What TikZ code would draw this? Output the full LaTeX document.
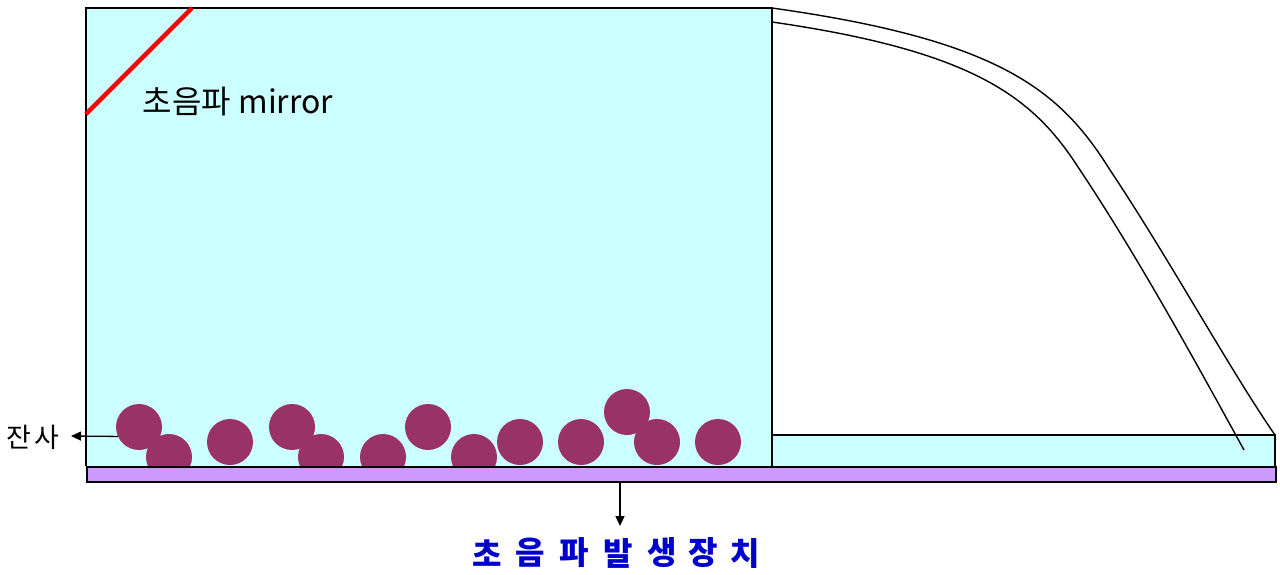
\documentclass[tikz,border=0pt]{standalone}
\usepackage{fontspec}
\newfontfamily\kr{Noto Sans CJK KR}
\usetikzlibrary{arrows.meta}
\definecolor{water}{HTML}{CCFFFF}
\definecolor{plate}{HTML}{CC99FF}
\definecolor{grain}{HTML}{993366}
\definecolor{labelblue}{HTML}{0000CC}
\tikzset{
  outline/.style={draw=black, line width=1.6pt},
  grainball/.style={circle, fill=grain, minimum size=46pt, inner sep=0pt},
  pointer/.style={draw=black, line width=1.3pt, -{Triangle[length=10pt,width=9pt]}},
  curveline/.style={draw=black, line width=1.4pt},
  bluelabel/.style={font=\kr\bfseries\fontsize{32}{36}\selectfont, text=labelblue, inner sep=0pt},
}
\begin{document}
\begin{tikzpicture}[x=1pt,y=-1pt]
\useasboundingbox (0,0) rectangle (1280,574);
% tank
\path[fill=water] (86,8) rectangle (772,466);
\path[fill=water] (772,435) rectangle (1275,466);
% residue particles
\foreach \n/\px/\py in {a/139/427,b/169/457,c/230/442,d/292/427,e/321/457,f/383/457,g/428/427,h/474/457,i/520/442,j/581/442,k/627/412,l/657/442,m/718/442}
  \node[grainball] (p\n) at (\px,\py) {};
% ultrasonic plate
\node[draw=black, line width=1.6pt, fill=plate, minimum width=1189pt, minimum height=15pt, inner sep=0pt, anchor=north west] (plate) at (86,466) {};
% tank outlines
\draw[outline] (86,466) -- (86,8) -- (772,8) -- (772,466);
\draw[outline] (772,466) -- (772,435) -- (1275,435) -- (1275,466);
% lid curves
\draw[curveline] (772,8) .. controls (1000,40) and (1060,90) .. (1110,170)
  .. controls (1170,260) and (1230,370) .. (1275,435);
\draw[curveline] (772,22) .. controls (980,52) and (1035,100) .. (1080,170)
  .. controls (1140,260) and (1200,370) .. (1244,450);
% mirror
\draw[red, line width=4.5pt] (86,114) -- (192,8);
\node[font=\kr\fontsize{32}{36}\selectfont, anchor=center] (mirror) at (238,102) {초음파 mirror};
% residue label
\node[font=\kr\fontsize{27}{32}\selectfont, anchor=east, inner sep=0pt] (zansa) at (60,437) {잔\hspace{4pt}사};
\coordinate (zansatip) at (71,436);
\draw[pointer] (pa.204) -- (zansatip);
% generator label, one glyph per slot
\foreach \ch/\cx [count=\k] in {초/487,음/530,파/574,발/618,생/662,장/703,치/745}
  \node[bluelabel] (gen\k) at (\cx,553) {\ch};
\coordinate (genin) at (620,526);
\draw[pointer] (plate.south -| genin) -- (genin);
\end{tikzpicture}
\end{document}
